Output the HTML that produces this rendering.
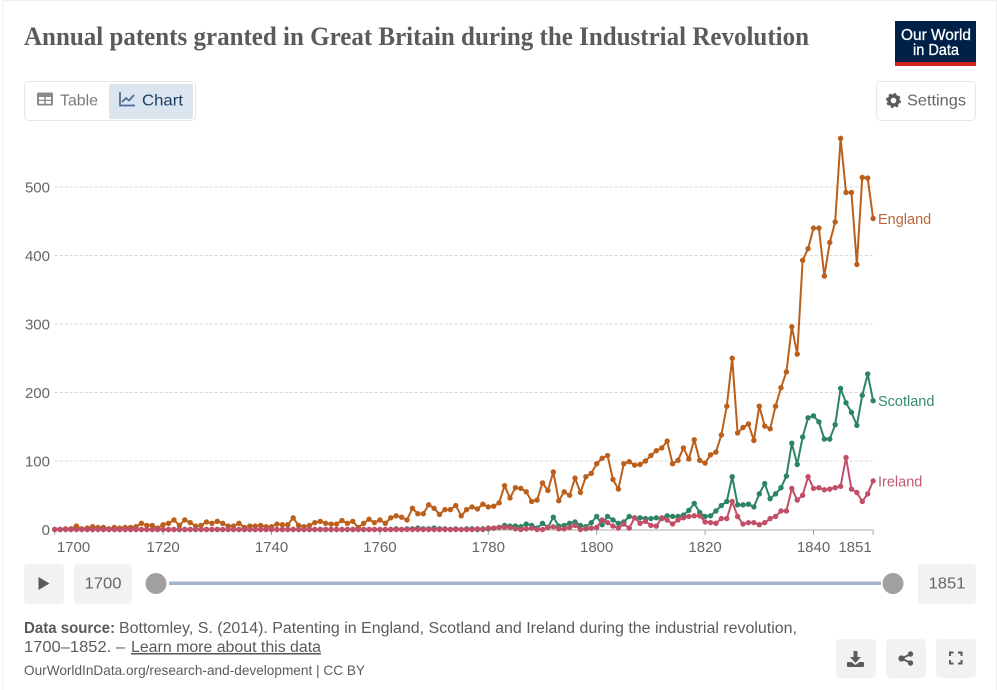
<!DOCTYPE html>
<html lang="en">
<head>
<meta charset="utf-8">
<title>Annual patents granted in Great Britain during the Industrial Revolution</title>
<style>
html,body{margin:0;padding:0;background:#fff;}
body{width:997px;height:690px;overflow:hidden;}
svg{display:block;font-family:"Liberation Sans",sans-serif;}
</style>
</head>
<body>
<svg id="page" width="997" height="690" viewBox="0 0 997 690" xmlns="http://www.w3.org/2000/svg">
  <rect x="3" y="0.5" width="993.5" height="695" fill="#fff" stroke="#efefef"/>
  <text x="24" y="45" font-family="'Liberation Serif',serif" font-weight="700" font-size="26.500" fill="#5b5b5b" textLength="785" lengthAdjust="spacingAndGlyphs">Annual patents granted in Great Britain during the Industrial Revolution</text>

  <g>
    <rect x="895" y="21" width="81" height="45" fill="#002147"/>
    <rect x="895" y="62" width="81" height="4" fill="#ce261e"/>
    <text x="901" y="40" font-size="15.500" fill="#fff" stroke="#fff" stroke-width="0.300" textLength="70" lengthAdjust="spacingAndGlyphs">Our World</text>
    <text x="913" y="55" font-size="15.500" fill="#fff" stroke="#fff" stroke-width="0.300" textLength="46" lengthAdjust="spacingAndGlyphs">in Data</text>
  </g>

  <g>
    <rect x="24.500" y="81.500" width="171" height="39" rx="4" fill="#fff" stroke="#e7e7e7"/>
    <g>
      <g>
        <rect x="37" y="92.500" width="16" height="13" rx="1.500" fill="#8a8a8a"/>
        <rect x="39" y="97" width="5.200" height="2.800" fill="#fff"/><rect x="45.800" y="97" width="5.200" height="2.800" fill="#fff"/>
        <rect x="39" y="101" width="5.200" height="2.800" fill="#fff"/><rect x="45.800" y="101" width="5.200" height="2.800" fill="#fff"/>
      </g>
      <text x="60" y="105.500" font-size="16" fill="#7a7a7a" textLength="38" lengthAdjust="spacingAndGlyphs">Table</text>
    </g>
    <g>
      <rect x="109" y="84" width="84" height="35" rx="2" fill="#dbe5f0"/>
      <path d="M120 92v13.500h15M122 102l4-4 3 2.500 5-5.500" fill="none" stroke="#4b6a8e" stroke-width="1.700"/>
      <text x="142" y="105.500" font-size="16" fill="#1d3d63" textLength="41" lengthAdjust="spacingAndGlyphs">Chart</text>
    </g>
  </g>

  <g>
    <rect x="876.500" y="81.500" width="99" height="39" rx="4" fill="#fff" stroke="#e7e7e7"/>
    <g>
      <circle cx="893.500" cy="100.500" r="4.500" fill="none" stroke="#5b5b5b" stroke-width="3.400"/>
      <circle cx="893.500" cy="100.500" r="6.500" fill="none" stroke="#5b5b5b" stroke-width="2" stroke-dasharray="2.700 2.400"/>
    </g>
    <text x="907" y="105.500" font-size="16" fill="#666" textLength="59" lengthAdjust="spacingAndGlyphs">Settings</text>
  </g>

  <g id="grid"></g>
  <g id="xaxis"></g>
  <g id="series"></g>

  <g>
    <g>
      <rect x="24" y="564" width="40" height="40" rx="4" fill="#f2f2f2"/>
      <path d="M38.500 577v13l11-6.500z" fill="#5b5b5b"/>
    </g>
    <g>
      <rect x="74" y="564" width="58" height="40" rx="4" fill="#f2f2f2"/>
      <text x="84.500" y="588.500" font-size="15.500" fill="#666" textLength="37" lengthAdjust="spacingAndGlyphs">1700</text>
    </g>
    <rect x="169" y="581.500" width="712" height="3.500" fill="#a4b5c8"/>
    <circle cx="156" cy="583.500" r="10.500" fill="#a0a0a0"/>
    <circle cx="893" cy="583.500" r="10.500" fill="#a0a0a0"/>
    <g>
      <rect x="918" y="564" width="58" height="40" rx="4" fill="#f2f2f2"/>
      <text x="928.500" y="588.500" font-size="15.500" fill="#666" textLength="37" lengthAdjust="spacingAndGlyphs">1851</text>
    </g>
  </g>

  <g>
    <text x="24" y="633" font-size="15.500" font-weight="700" fill="#5b5b5b" textLength="91" lengthAdjust="spacingAndGlyphs">Data source:</text>
    <text x="119" y="633" font-size="15.500" fill="#5b5b5b" textLength="678" lengthAdjust="spacingAndGlyphs">Bottomley, S. (2014). Patenting in England, Scotland and Ireland during the industrial revolution,</text>
    <text x="24" y="652" font-size="15.500" fill="#5b5b5b" textLength="101" lengthAdjust="spacingAndGlyphs">1700–1852. –</text>
    <text x="131" y="652" font-size="15.500" fill="#5b5b5b" text-decoration="underline" textLength="190" lengthAdjust="spacingAndGlyphs">Learn more about this data</text>
    <text x="24" y="675" font-size="14" fill="#5b5b5b" textLength="341" lengthAdjust="spacingAndGlyphs">OurWorldInData.org/research-and-development | CC BY</text>
  </g>

  <g>
    <rect x="836" y="639" width="40" height="39" rx="4" fill="#f2f2f2"/>
    <path d="M853.500 651h4v6h3.500l-5.500 6-5.500-6h3.500zM848 662h3.500l4 3 4-3h3.500a1 1 0 0 1 1 1v3a1 1 0 0 1-1 1h-15a1 1 0 0 1-1-1v-3a1 1 0 0 1 1-1z" fill="#5b5b5b"/>
  </g>
  <g>
    <rect x="886" y="639" width="40" height="39" rx="4" fill="#f2f2f2"/>
    <g fill="#5b5b5b" stroke="#5b5b5b">
      <path d="M901.500 658.500l9.500-4.500M901.500 658.500l9.500 4.500" stroke-width="2" fill="none"/>
      <circle cx="901.500" cy="658.500" r="2.600"/><circle cx="910.500" cy="654" r="2.200"/><circle cx="910.500" cy="663" r="2.200"/>
    </g>
  </g>
  <g>
    <rect x="936" y="639" width="40" height="39" rx="4" fill="#f2f2f2"/>
    <path d="M950 656v-3.500h3.500M958 652.500h3.500v3.500M961.500 660v3.500H958M953.500 663.500H950V660" fill="none" stroke="#5b5b5b" stroke-width="2"/>
  </g>
</svg>
<script>
const years = [1700,1701,1702,1703,1704,1705,1706,1707,1708,1709,1710,1711,1712,1713,1714,1715,1716,1717,1718,1719,1720,1721,1722,1723,1724,1725,1726,1727,1728,1729,1730,1731,1732,1733,1734,1735,1736,1737,1738,1739,1740,1741,1742,1743,1744,1745,1746,1747,1748,1749,1750,1751,1752,1753,1754,1755,1756,1757,1758,1759,1760,1761,1762,1763,1764,1765,1766,1767,1768,1769,1770,1771,1772,1773,1774,1775,1776,1777,1778,1779,1780,1781,1782,1783,1784,1785,1786,1787,1788,1789,1790,1791,1792,1793,1794,1795,1796,1797,1798,1799,1800,1801,1802,1803,1804,1805,1806,1807,1808,1809,1810,1811,1812,1813,1814,1815,1816,1817,1818,1819,1820,1821,1822,1823,1824,1825,1826,1827,1828,1829,1830,1831,1832,1833,1834,1835,1836,1837,1838,1839,1840,1841,1842,1843,1844,1845,1846,1847,1848,1849,1850,1851];
const england = [0,0,1,1,5,1,2,4,3,3,1,3,2,3,3,4,9,6,6,2,7,9,14,6,14,10,5,6,11,9,12,9,5,5,9,3,5,5,6,4,4,8,7,7,17,6,4,6,10,12,9,8,8,13,9,12,3,9,15,10,14,9,17,20,18,14,31,23,23,36,31,22,29,29,35,20,29,33,30,37,33,34,39,64,46,61,60,55,41,43,68,57,84,42,55,50,75,54,77,82,96,104,108,73,59,96,99,94,95,100,108,115,119,129,96,101,119,103,131,101,97,109,113,138,180,250,141,149,154,130,180,151,147,180,207,230,296,256,393,410,440,440,370,419,449,571,492,492,387,514,513,454];
const scotland = [0,0,0,0,0,0,0,0,0,0,0,0,0,0,0,0,0,0,0,0,0,0,0,0,0,0,0,0,0,0,0,0,0,0,0,0,0,0,0,0,0,0,0,0,0,0,0,0,0,0,0,0,0,0,0,0,0,0,0,0,0,0,0,1,0,1,1,2,1,1,2,1,1,0,1,0,1,1,0,1,1,2,3,6,5,5,4,8,6,2,9,3,18,5,6,9,11,6,4,10,19,7,19,14,9,11,19,17,17,16,16,17,16,20,19,19,21,28,38,25,19,20,27,35,41,77,36,36,37,33,52,67,45,52,61,78,126,95,135,163,166,157,132,132,153,206,185,171,152,196,227,188];
const ireland = [0,0,0,0,0,0,0,0,0,0,0,0,0,0,0,0,0,0,0,0,0,0,0,0,0,0,0,0,0,0,0,0,0,0,0,0,0,0,0,0,0,0,0,0,0,0,0,0,0,0,0,0,0,0,0,0,0,0,0,0,0,0,0,0,0,0,0,0,0,0,0,0,0,0,0,0,0,0,1,0,2,2,3,3,3,1,0,1,2,0,0,3,4,1,1,3,6,0,1,2,3,14,10,5,2,8,2,17,9,12,6,5,17,14,8,14,17,19,20,20,11,10,9,16,16,41,19,8,10,10,7,10,16,19,27,27,60,43,50,77,60,61,58,59,61,63,105,59,54,41,52,71];
const yTicks = [0,100,200,300,400,500];
const xTicks = [1700,1720,1740,1760,1780,1800,1820,1840,1851];
const seriesNames = ['England','Scotland','Ireland'];

const svgNS = 'http://www.w3.org/2000/svg';
const seriesValues = [england, scotland, ireland];
const seriesColors = ['#bb5f1a', '#2c8465', '#c14f68'];
const labelColors = ['#b9683a', '#3c8a70', '#c2596f'];

function xScale(year) { return 54.7 + (year - 1700) * 5.42; }
function yScale(v) { return 529.5 - v * 0.685; }
function xLabelPos(year) {
  if (year === 1700) return 73.5;
  if (year === 1851) return 855;
  return xScale(year);
}
function make(tag, attrs, text) {
  const el = document.createElementNS(svgNS, tag);
  Object.keys(attrs).forEach(function (k) { el.setAttribute(k, attrs[k]); });
  if (text !== undefined) el.textContent = text;
  return el;
}

const gridG = document.getElementById('grid');
yTicks.forEach(function (t) {
  if (t !== 0) {
    const line = make('line', {x1: 54.7, x2: xScale(1851), y1: yScale(t), y2: yScale(t), stroke: '#d8d8d8', 'stroke-dasharray': '3 2'});
    
    
    gridG.appendChild(line);
  }
  const lab = make('text', {x: 50, y: yScale(t) + 5.5, 'text-anchor': 'end', 'font-size': 15, fill: '#666'}, String(t));
  
  
  gridG.appendChild(lab);
});

const xG = document.getElementById('xaxis');
const axisLine = make('line', {x1: 54.7, x2: xScale(1851), y1: 530, y2: 530, stroke: '#a9a9a9'});


xG.appendChild(axisLine);
xTicks.forEach(function (t) {
  const tick = make('line', {x1: xScale(t), x2: xScale(t), y1: 530, y2: 535, stroke: '#a9a9a9'});
  
  
  xG.appendChild(tick);
  const lab = make('text', {x: xLabelPos(t), y: 552, 'text-anchor': 'middle', 'font-size': 15, fill: '#666'}, String(t));
  
  
  xG.appendChild(lab);
});

const seriesG = document.getElementById('series');
seriesValues.forEach(function (vals, s) {
  const g = make('g', {fill: seriesColors[s], stroke: 'none'});
  
  
  const pts = vals.map(function (v, i) { return xScale(years[i]).toFixed(2) + ',' + yScale(v).toFixed(2); }).join(' ');
  const line = make('polyline', {points: pts, fill: 'none', stroke: seriesColors[s], 'stroke-width': 2, 'stroke-linejoin': 'round'});
  
  
  g.appendChild(line);
  vals.forEach(function (v, i) {
    const dot = make('circle', {cx: xScale(years[i]), cy: yScale(v), r: 2.7});
    
    
    g.appendChild(dot);
  });
  seriesG.appendChild(g);
  const lastValue = vals[vals.length - 1];
  const label = make('text', {x: 878, y: yScale(lastValue) + 5.5, 'font-size': 14.5, fill: labelColors[s]}, seriesNames[s]);
  
  
  seriesG.appendChild(label);
});
</script>
</body>
</html>
